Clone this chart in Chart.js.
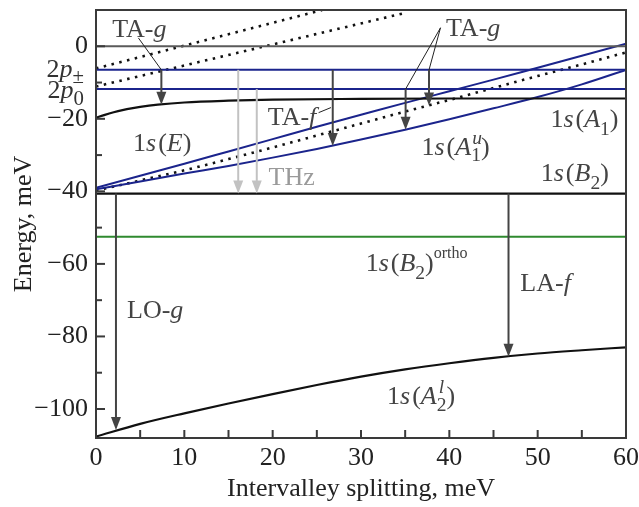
<!DOCTYPE html>
<html>
<head>
<meta charset="utf-8">
<title>Energy levels vs intervalley splitting</title>
<script src="https://cdn.jsdelivr.net/npm/chart.js@4.4.1/dist/chart.umd.min.js"></script>
<style>
  html, body { margin: 0; padding: 0; background: #fff; }
  #wrap { width: 639px; height: 507px; }
</style>
</head>
<body>
<div id="wrap"><canvas id="levels" width="639" height="507"></canvas></div>
<script>
// splitting grid (meV) for the sloped levels
const splitX = [0, 5, 10, 15, 20, 25, 30, 35, 40, 45, 50, 55, 60];
const blueUpper = [-39.0, -35.7, -32.4, -29.0, -25.6, -22.2, -18.9, -15.6, -12.4, -9.2, -5.9, -2.6, 0.7];
const blueLower = [-39.4, -37.3, -35.1, -33.0, -30.7, -28.3, -25.7, -23.0, -20.1, -17.1, -14.0, -10.5, -6.5];
const dottedMid = [-39.8, -37.0, -34.2, -31.1, -27.9, -24.6, -21.3, -18.0, -14.8, -11.5, -8.2, -5.0, -1.7];
const levelA2l = [-107.6, -104.1, -101.2, -98.5, -95.9, -93.4, -91.1, -89.1, -87.4, -85.9, -84.7, -83.8, -83.0];

// 1s(E) bends near zero, so it gets more points there
const eX = [0, 1, 2, 3, 4, 5, 7, 10, 15, 20, 30, 40, 50, 60];
const level1sE = [-19.7, -18.9, -18.2, -17.6, -17.1, -16.7, -16.1, -15.5, -15.0, -14.7, -14.5, -14.4, -14.4, -14.4];

// TA-g replicas of the 2p lines (top left)
const replicaAX = [0, 25.6];
const replicaA = [-6.1, 10];
const replicaBX = [0, 35];
const replicaB = [-11.1, 9.2];

// flat levels
const E2pPlus = -6.5;
const E2p0 = -11.8;
const Ezero = 0;
const EB2 = -40.6;
const EB2ortho = -52.5;

// transitions: x, start, end, light (THz) or dark
const arrowX = [7.4, 16.1, 18.2, 26.8, 35.05, 37.7, 2.26, 46.7];
const arrowFrom = [-6.5, -6.5, -11.8, -6.5, -11.8, -6.5, -40.6, -40.6];
const arrowTo = [-16.1, -40.6, -40.6, -27.5, -23.0, -16.3, -105.8, -85.6];
const arrowLight = [false, true, true, false, false, false, false, false];

const xTicks = [0, 5, 10, 15, 20, 25, 30, 35, 40, 45, 50, 55, 60];
const yTicks = [-100, -90, -80, -70, -60, -50, -40, -30, -20, -10, 0];

const FONT = '"Liberation Serif", "Times New Roman", serif';
const FS = 26;
const BLUE = '#1b248c';
const DARK = '#444';

const pts = (xs, ys) => xs.map((x, i) => ({ x: x, y: ys[i] }));
const flat = y => pts([0, 60], [y, y]);

function runFont(r) {
  return (r.it ? 'italic ' : '') + (FS * (r.sc || 1)).toFixed(1) + 'px ' + FONT;
}
function runsWidth(ctx, runs) {
  let w = 0;
  runs.forEach(r => {
    ctx.font = runFont(r);
    if (!r.stay) w += ctx.measureText(r.t).width + (r.gap || 0);
  });
  return w;
}
// draws a label whose cap height is centred on y
function drawRuns(ctx, runs, x, y, align, color) {
  const w = runsWidth(ctx, runs);
  let cx = align === 'right' ? x - w : (align === 'center' ? x - w / 2 : x);
  const base = y + FS * 0.33;
  ctx.save();
  ctx.fillStyle = color;
  ctx.textAlign = 'left';
  ctx.textBaseline = 'alphabetic';
  runs.forEach(r => {
    ctx.font = runFont(r);
    ctx.fillText(r.t, cx + (r.dx || 0), base + (r.dy || 0) * FS);
    if (!r.stay) cx += ctx.measureText(r.t).width + (r.gap || 0);
  });
  ctx.restore();
}

const one_s = [{ t: '1' }, { t: 's', it: 1, gap: 2 }, { t: '(' }];
const labels = [
  { x: 4.9, y: 5.0, runs: [{ t: 'TA-' }, { t: 'g', it: 1 }] },
  { x: 42.7, y: 5.2, runs: [{ t: 'TA-' }, { t: 'g', it: 1 }] },
  { x: 7.5, y: -26.4, runs: one_s.concat([{ t: 'E', it: 1 }, { t: ')' }]) },
  { x: 22.2, y: -19.3, runs: [{ t: 'TA-' }, { t: 'f', it: 1 }] },
  { x: 22.15, y: -35.8, runs: [{ t: 'THz' }], color: '#9a9a9a' },
  { x: 55.3, y: -20.0, runs: one_s.concat([{ t: 'A', it: 1 }, { t: '1', sc: 0.75, dy: 0.3 }, { t: ')' }]) },
  { x: 40.7, y: -27.6, runs: one_s.concat([{ t: 'A', it: 1 }, { t: 'u', it: 1, sc: 0.75, dy: -0.42, stay: true, dx: 1 }, { t: '1', sc: 0.75, dy: 0.25 }, { t: ')' }]) },
  { x: 54.2, y: -34.7, runs: one_s.concat([{ t: 'B', it: 1 }, { t: '2', sc: 0.75, dy: 0.3 }, { t: ')' }]) },
  { x: 36.3, y: -59.6, runs: one_s.concat([{ t: 'B', it: 1 }, { t: '2', sc: 0.75, dy: 0.3 }, { t: ')' }, { t: 'ortho', sc: 0.62, dy: -0.5 }]) },
  { x: 50.9, y: -65.1, runs: [{ t: 'LA-' }, { t: 'f', it: 1 }] },
  { x: 6.7, y: -72.5, runs: [{ t: 'LO-' }, { t: 'g', it: 1 }] },
  { x: 36.8, y: -96.3, runs: one_s.concat([{ t: 'A', it: 1 }, { t: 'l', it: 1, sc: 0.75, dy: -0.42, stay: true, dx: 2 }, { t: '2', sc: 0.75, dy: 0.25 }, { t: ')' }]) }
];
// thin leader lines from labels to arrows: [x1, y1, x2, y2]
const leaders = [
  [4.8, 2.3, 7.4, -6.5],
  [39.0, 5.1, 35.05, -11.8],
  [39.0, 5.1, 37.7, -6.5],
  [25.2, -18.3, 26.6, -16.9]
];

const decor = {
  id: 'decor',
  afterDatasetsDraw(chart) {
    const ctx = chart.ctx;
    const a = chart.chartArea;
    const sx = chart.scales.x, sy = chart.scales.y;
    const px = v => sx.getPixelForValue(v);
    const py = v => sy.getPixelForValue(v);

    // transitions
    arrowX.forEach((x, i) => {
      const c = arrowLight[i] ? '#c2c2c2' : DARK;
      const X = px(x), Y1 = py(arrowFrom[i]), Y2 = py(arrowTo[i]);
      ctx.save();
      ctx.strokeStyle = c; ctx.fillStyle = c; ctx.lineWidth = 2;
      ctx.beginPath(); ctx.moveTo(X, Y1); ctx.lineTo(X, Y2 - 10); ctx.stroke();
      ctx.beginPath(); ctx.moveTo(X, Y2); ctx.lineTo(X - 5, Y2 - 13); ctx.lineTo(X + 5, Y2 - 13); ctx.closePath(); ctx.fill();
      ctx.restore();
    });

    // leaders
    ctx.save();
    ctx.strokeStyle = '#222'; ctx.lineWidth = 1;
    leaders.forEach(l => {
      ctx.beginPath(); ctx.moveTo(px(l[0]), py(l[1])); ctx.lineTo(px(l[2]), py(l[3])); ctx.stroke();
    });
    ctx.restore();

    labels.forEach(l => drawRuns(ctx, l.runs, px(l.x), py(l.y), 'center', l.color || DARK));

    // frame
    ctx.save();
    ctx.strokeStyle = '#3a3a3a'; ctx.lineWidth = 2;
    ctx.strokeRect(a.left, a.top, a.right - a.left, a.bottom - a.top);
    // inward ticks
    xTicks.forEach(v => {
      const X = px(v);
      ctx.beginPath(); ctx.moveTo(X, a.bottom); ctx.lineTo(X, a.bottom - 8); ctx.stroke();
    });
    yTicks.forEach(v => {
      const Y = py(v);
      const len = v % 20 === 0 ? 9 : 6;
      ctx.beginPath(); ctx.moveTo(a.left, Y); ctx.lineTo(a.left + len, Y); ctx.stroke();
    });
    ctx.restore();

    // 2p level names on the energy axis
    drawRuns(ctx, [{ t: '2' }, { t: 'p', it: 1 }, { t: '\u00b1', sc: 0.8, dy: 0.2 }], a.left - 12, py(E2pPlus) - 1, 'right', '#333');
    drawRuns(ctx, [{ t: '2' }, { t: 'p', it: 1 }, { t: '0', sc: 0.8, dy: 0.26 }], a.left - 12, py(E2p0) + 0.5, 'right', '#333');
  }
};

const line = (data, color, width, extra) => Object.assign({
  data: data, showLine: true, borderColor: color, borderWidth: width,
  pointRadius: 0, fill: false, tension: 0
}, extra || {});

new Chart(document.getElementById('levels'), {
  type: 'scatter',
  data: {
    datasets: [
      line(flat(Ezero), '#5a5a5a', 2),
      line(flat(E2pPlus), BLUE, 2),
      line(flat(E2p0), BLUE, 2),
      line(flat(EB2), '#111', 2.2),
      line(flat(EB2ortho), '#2f8a2f', 2),
      line(pts(eX, level1sE), '#111', 2.2, { cubicInterpolationMode: 'monotone' }),
      line(pts(splitX, levelA2l), '#111', 2.2, { cubicInterpolationMode: 'monotone' }),
      line(pts(splitX, blueUpper), BLUE, 2, { cubicInterpolationMode: 'monotone' }),
      line(pts(splitX, blueLower), BLUE, 2, { cubicInterpolationMode: 'monotone' }),
      line(pts(splitX, dottedMid), '#111', 2.6, { borderDash: [2.5, 5.5], cubicInterpolationMode: 'monotone' }),
      line(pts(replicaAX, replicaA), '#111', 2.6, { borderDash: [2.5, 5.5] }),
      line(pts(replicaBX, replicaB), '#111', 2.6, { borderDash: [2.5, 5.5] })
    ]
  },
  options: {
    responsive: false,
    animation: false,
    events: [],
    layout: { padding: { top: 10, right: 13, left: 0, bottom: 0 } },
    plugins: { legend: { display: false }, tooltip: { enabled: false } },
    scales: {
      x: {
        type: 'linear', min: 0, max: 60,
        afterBuildTicks: s => { s.ticks = xTicks.map(v => ({ value: v })); },
        afterFit: s => { s.height = 69; s.paddingLeft = 0; s.paddingRight = 0; },
        grid: { display: false, drawTicks: false },
        border: { display: false },
        ticks: {
          autoSkip: false, maxRotation: 0, padding: 5, color: '#222',
          font: { family: FONT, size: FS },
          callback: v => (v % 10 === 0 ? String(v) : '')
        },
        title: {
          display: true, text: 'Intervalley splitting, meV', color: '#222',
          font: { family: FONT, size: FS }, padding: { top: 0, bottom: 2 }
        }
      },
      y: {
        type: 'linear', min: -108, max: 10,
        afterBuildTicks: s => { s.ticks = yTicks.map(v => ({ value: v })); },
        afterFit: s => { s.width = 96; s.paddingTop = 0; s.paddingBottom = 0; },
        grid: { display: false, drawTicks: false },
        border: { display: false },
        ticks: {
          autoSkip: false, padding: 8, color: '#222',
          font: { family: FONT, size: FS },
          callback: v => (v % 20 === 0 ? (v < 0 ? '\u2212' + Math.abs(v) : String(v)) : '')
        },
        title: {
          display: true, text: 'Energy, meV', color: '#222',
          font: { family: FONT, size: FS }, padding: { top: 9, bottom: 0 }
        }
      }
    }
  },
  plugins: [decor]
});
</script>
</body>
</html>
